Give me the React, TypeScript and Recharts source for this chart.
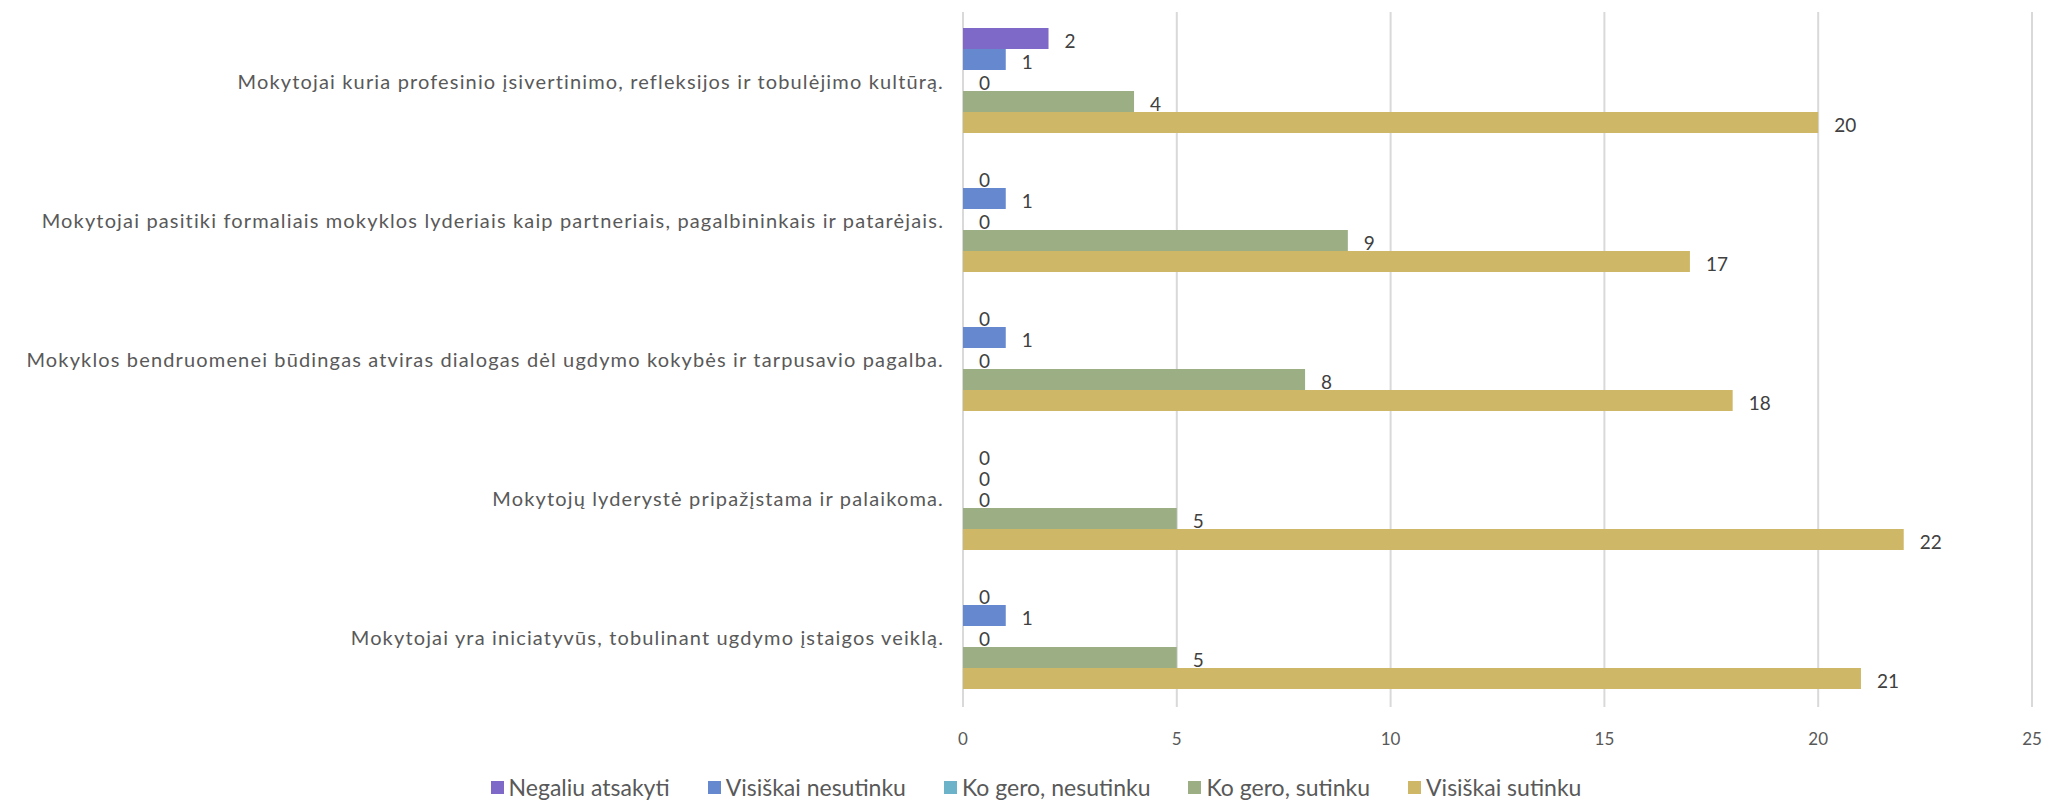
import React from 'react';
import { BarChart, Bar, XAxis, YAxis, CartesianGrid, Legend, LabelList } from 'recharts';

// categories, top to bottom as drawn
const categories = [
  'Mokytojai kuria profesinio įsivertinimo, refleksijos ir tobulėjimo kultūrą.',
  'Mokytojai pasitiki formaliais mokyklos lyderiais kaip partneriais, pagalbininkais ir patarėjais.',
  'Mokyklos bendruomenei būdingas atviras dialogas dėl ugdymo kokybės ir tarpusavio pagalba.',
  'Mokytojų lyderystė pripažįstama ir palaikoma.',
  'Mokytojai yra iniciatyvūs, tobulinant ugdymo įstaigos veiklą.',
];

const negaliuAtsakyti = [2, 0, 0, 0, 0];
const visiskaiNesutinku = [1, 1, 1, 0, 1];
const koGeroNesutinku = [0, 0, 0, 0, 0];
const koGeroSutinku = [4, 9, 8, 5, 5];
const visiskaiSutinku = [20, 17, 18, 22, 21];

const xTicks = [0, 5, 10, 15, 20, 25];

const seriesNames = [
  'Negaliu atsakyti',
  'Visiškai nesutinku',
  'Ko gero, nesutinku',
  'Ko gero, sutinku',
  'Visiškai sutinku',
];
const seriesColors = ['#7f69c8', '#6688cf', '#6cb2c9', '#9caf84', '#ceb766'];

const chartData = categories.map((name, i) => ({
  name,
  s0: negaliuAtsakyti[i],
  s1: visiskaiNesutinku[i],
  s2: koGeroNesutinku[i],
  s3: koGeroSutinku[i],
  s4: visiskaiSutinku[i],
}));

const FONT = 'Lato, "Open Sans", sans-serif';

// fixed-height box so the bigger legend text doesn't squeeze the plot
const renderLegend = () => (
  <div style={{ height: 23, overflow: 'visible' }}>
    <div
      style={{
        display: 'flex',
        justifyContent: 'center',
        paddingLeft: 78,
        fontFamily: FONT,
        fontSize: 23,
        color: '#595959',
        transform: 'translateY(26px)',
      }}
    >
      {seriesNames.map((n, i) => (
        <div key={n} style={{ display: 'flex', alignItems: 'center', marginRight: 38 }}>
          <span
            style={{ width: 13, height: 13, background: seriesColors[i], display: 'inline-block', marginRight: 5 }}
          />
          <span>{n}</span>
        </div>
      ))}
    </div>
  </div>
);

export default function App() {
  return (
    <div style={{ position: 'absolute', left: 0, top: 0, background: '#fff' }}>
      <BarChart
        width={2051}
        height={807}
        data={chartData}
        layout="vertical"
        margin={{ top: 12, right: 19, bottom: 37, left: 0 }}
        barCategoryGap={16}
        barGap={0}
      >
        <CartesianGrid horizontal={false} stroke="#d9d9d9" strokeWidth={2} />
        <XAxis
          type="number"
          domain={[0, 25]}
          ticks={xTicks}
          axisLine={false}
          tickLine={false}
          tickSize={0}
          tickMargin={26}
          height={40}
          tick={{ fill: '#595959', fontSize: 17, fontFamily: FONT }}
        />
        <YAxis
          type="category"
          dataKey="name"
          width={963}
          axisLine={false}
          tickLine={false}
          tickSize={0}
          tickMargin={19}
          interval={0}
          tick={{ fill: '#595959', fontSize: 20, fontFamily: FONT, letterSpacing: 1.15 }}
        />
        <Legend verticalAlign="bottom" content={renderLegend} />
        {seriesNames.map((n, i) => (
          <Bar
            key={n}
            dataKey={`s${i}`}
            name={n}
            fill={seriesColors[i]}
            minPointSize={0.01}
            isAnimationActive={false}
          >
            <LabelList
              dataKey={`s${i}`}
              position="right"
              offset={16}
              dy={3}
              fill="#404040"
              fontSize={19}
              fontFamily={FONT}
            />
          </Bar>
        ))}
      </BarChart>
    </div>
  );
}
